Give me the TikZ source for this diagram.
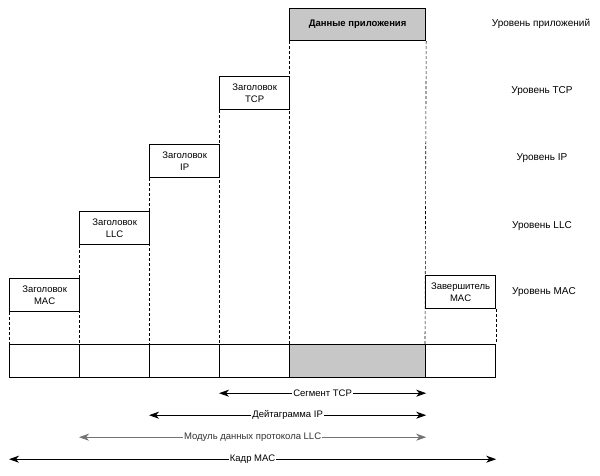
\documentclass[tikz,border=0pt]{standalone}
\usepackage{fontspec}
\setmainfont{Liberation Sans}
\usetikzlibrary{arrows.meta}

\tikzset{
  hdr/.style={draw, line width=1.2pt, anchor=north west, minimum width=70pt,
    minimum height=33pt, inner sep=0pt, align=center,
    font=\fontsize{9.5}{12.5}\selectfont},
  cell/.style={draw, line width=1.2pt, anchor=north west, minimum width=70pt,
    minimum height=33pt, inner sep=0pt},
  datafill/.style={fill=black!22},
  guide/.style={dash pattern=on 3pt off 2pt, line width=0.6pt},
  lvl/.style={font=\fontsize{10}{12}\selectfont},
  span/.style={{Stealth[length=10pt,width=7pt,inset=3pt]}-{Stealth[length=10pt,width=7pt,inset=3pt]},
    line width=0.8pt},
  spanlbl/.style={fill=white, inner sep=1pt, font=\fontsize{9.5}{11}\selectfont},
}

\begin{document}
\begin{tikzpicture}[x=1pt, y=-1pt]
  \useasboundingbox (0,0) rectangle (600,475);

  % frame row
  \node[cell] (c1) at (9,344) {};
  \node[cell] (c2) at (79,344) {};
  \node[cell] (c3) at (149,344) {};
  \node[cell] (c4) at (219,344) {};
  \node[cell, datafill, minimum width=136pt] (c5) at (289,344) {};
  \node[cell] (c6) at (425,344) {};

  % headers per level
  \node[hdr] (mach) at (9,278) {Заголовок\\MAC};
  \node[hdr] (llch) at (79,211) {Заголовок\\LLC};
  \node[hdr] (iph) at (149,144) {Заголовок\\IP};
  \node[hdr] (tcph) at (219,76) {Заголовок\\TCP};
  \node[hdr, datafill, minimum width=136pt, minimum height=32pt,
    font=\fontsize{9.5}{11}\selectfont\bfseries] (app) at (289,8) {Данные приложения};
  \node[hdr] (mact) at (425,275) {Завершитель\\MAC};

  \draw[guide] (mach.south west) -- (c1.north west);
  \draw[guide] (llch.south west) -- (c2.north west);
  \draw[guide] (iph.south west) -- (c3.north west);
  \draw[guide] (tcph.south west) -- (c4.north west);
  \draw[guide] (app.south west) -- (c5.north west);
  \draw[guide] (app.south east) -- (c6.north west);
  \draw[guide] (mact.south east) -- (c6.north east);

  % level names
  \node[lvl] (lapp) at (541,24) {Уровень приложений};
  \node[lvl] (ltcp) at (542,91) {Уровень TCP};
  \node[lvl] (lip) at (542,158) {Уровень IP};
  \node[lvl] (lllc) at (542,226) {Уровень LLC};
  \node[lvl] (lmac) at (544,292) {Уровень MAC};

  % spans
  \draw[span] ([yshift=-15pt]c4.south west) -- node[spanlbl] (stcp) {Сегмент TCP}
    ([yshift=-15pt]c5.south east);
  \draw[span] ([yshift=-37pt]c3.south west) -- node[spanlbl] (sip) {Дейтаграмма IP}
    ([yshift=-37pt]c5.south east);
  \draw[span, draw=black!55] ([yshift=-59pt]c2.south west) --
    node[spanlbl, text=black!80] (sllc) {Модуль данных протокола LLC}
    ([yshift=-59pt]c5.south east);
  \draw[span] ([yshift=-81pt]c1.south west) -- node[spanlbl] (smac) {Кадр MAC}
    ([yshift=-81pt]c6.south east);
\end{tikzpicture}
\end{document}
